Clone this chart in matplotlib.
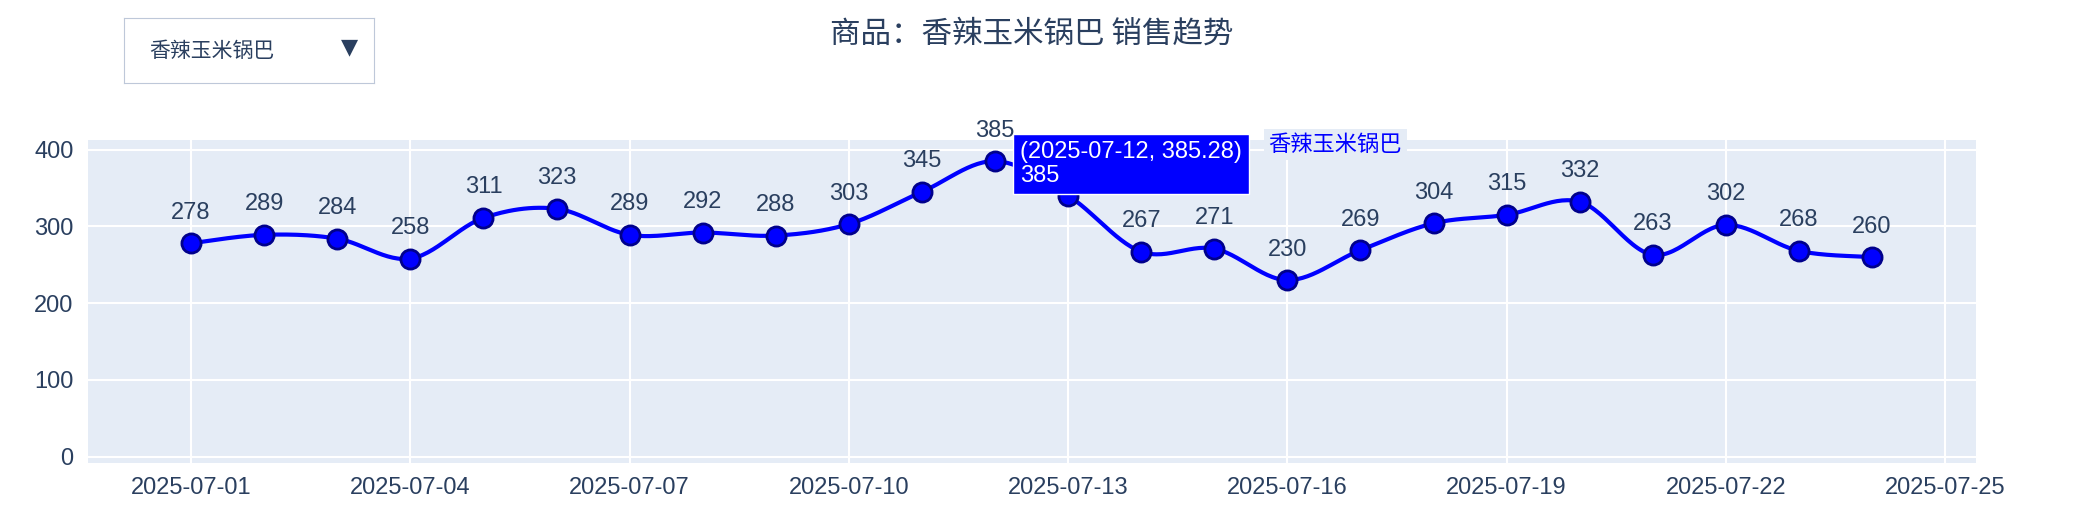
import matplotlib.pyplot as plt
import matplotlib.dates as mdates
import numpy as np
import pandas as pd

plt.rcParams['font.family'] = ['Noto Sans CJK SC', 'DejaVu Sans']

product = '香辣玉米锅巴'
dates = pd.date_range('2025-07-01', '2025-07-24')
sales = [278, 289, 284, 258, 311, 323, 289, 292, 288, 303, 345, 385,
         340, 267, 271, 230, 269, 304, 315, 332, 263, 302, 268, 260]
hover_idx = 11
hover_value = 385.28

text_col = '#2a3f5f'
line_col = '#0000ff'


def spline(x, y, n=30, t=0.5):
    # cardinal spline through the points, like plotly's shape='spline'
    x = np.asarray(x, float)
    y = np.asarray(y, float)
    px = np.concatenate([[x[0]], x, [x[-1]]])
    py = np.concatenate([[y[0]], y, [y[-1]]])
    xs, ys = [], []
    for i in range(1, len(px) - 2):
        m0x, m0y = t * (px[i + 1] - px[i - 1]), t * (py[i + 1] - py[i - 1])
        m1x, m1y = t * (px[i + 2] - px[i]), t * (py[i + 2] - py[i])
        s = np.linspace(0, 1, n)
        h1 = 2 * s**3 - 3 * s**2 + 1
        h2 = s**3 - 2 * s**2 + s
        h3 = -2 * s**3 + 3 * s**2
        h4 = s**3 - s**2
        xs.append(h1 * px[i] + h2 * m0x + h3 * px[i + 1] + h4 * m1x)
        ys.append(h1 * py[i] + h2 * m0y + h3 * py[i + 1] + h4 * m1y)
    return np.concatenate(xs), np.concatenate(ys)


fig = plt.figure(figsize=(20.84, 5.2), dpi=100)
ax = fig.add_axes([0.042, 0.11, 0.906, 0.62])
ax.set_facecolor('#e5ecf6')

xn = mdates.date2num(dates)
sx, sy = spline(xn, sales)
ax.plot(sx, sy, color=line_col, lw=3, zorder=3)
ax.scatter(xn, sales, s=190, color=line_col, edgecolor='#00008b', lw=2, zorder=4)
for x, v in zip(xn, sales):
    ax.annotate(str(v), (x, v), xytext=(0, 14), textcoords='offset points',
                ha='center', va='bottom', fontsize=17, color=text_col, zorder=5,
                family=['Liberation Sans', 'DejaVu Sans'])

ax.set_xlim(mdates.date2num(pd.Timestamp('2025-06-29 14:00')),
            mdates.date2num(pd.Timestamp('2025-07-25 10:00')))
ax.set_ylim(-8, 412)
ax.set_yticks([0, 100, 200, 300, 400])
ax.set_xticks(mdates.date2num(pd.date_range('2025-07-01', '2025-07-25', freq='3D')))
ax.xaxis.set_major_formatter(mdates.DateFormatter('%Y-%m-%d'))
ax.grid(color='white', lw=1.5)
ax.set_axisbelow(True)
ax.tick_params(length=0, labelsize=17, labelcolor=text_col, pad=10)
for lab in ax.get_xticklabels() + ax.get_yticklabels():
    lab.set_family(['Liberation Sans', 'DejaVu Sans'])
for s in ax.spines.values():
    s.set_visible(False)

# hover label
hx = xn[hover_idx]
ax.annotate(f'({dates[hover_idx]:%Y-%m-%d}, {hover_value})\n{sales[hover_idx]}',
            (hx, sales[hover_idx]), xytext=(18, -2), textcoords='offset points',
            ha='left', va='center', fontsize=17, color='white', zorder=10,
            linespacing=1.15, family=['Liberation Sans', 'DejaVu Sans'],
            bbox=dict(boxstyle='square,pad=0.3', fc=line_col, ec='white', lw=1))
ax.annotate(product, (hx, sales[hover_idx]), xytext=(197, 12), textcoords='offset points',
            ha='left', va='center', fontsize=16, color=line_col, zorder=10,
            bbox=dict(boxstyle='square,pad=0.2', fc='#e5ecf6', ec='none'),
            annotation_clip=False)

fig.text(0.495, 0.935, f'商品：{product} 销售趋势', ha='center', va='center',
         fontsize=22, color=text_col)

# dropdown
dd = fig.add_axes([0.0595, 0.84, 0.12, 0.125])
dd.set_xticks([])
dd.set_yticks([])
for s in dd.spines.values():
    s.set_color('#bec8d9')
dd.text(0.1, 0.5, product, va='center', fontsize=15, color=text_col)
dd.text(0.9, 0.55, '▼', va='center', ha='center', fontsize=16, color=text_col,
        family='DejaVu Sans')

fig.savefig('out.png', dpi=100)
